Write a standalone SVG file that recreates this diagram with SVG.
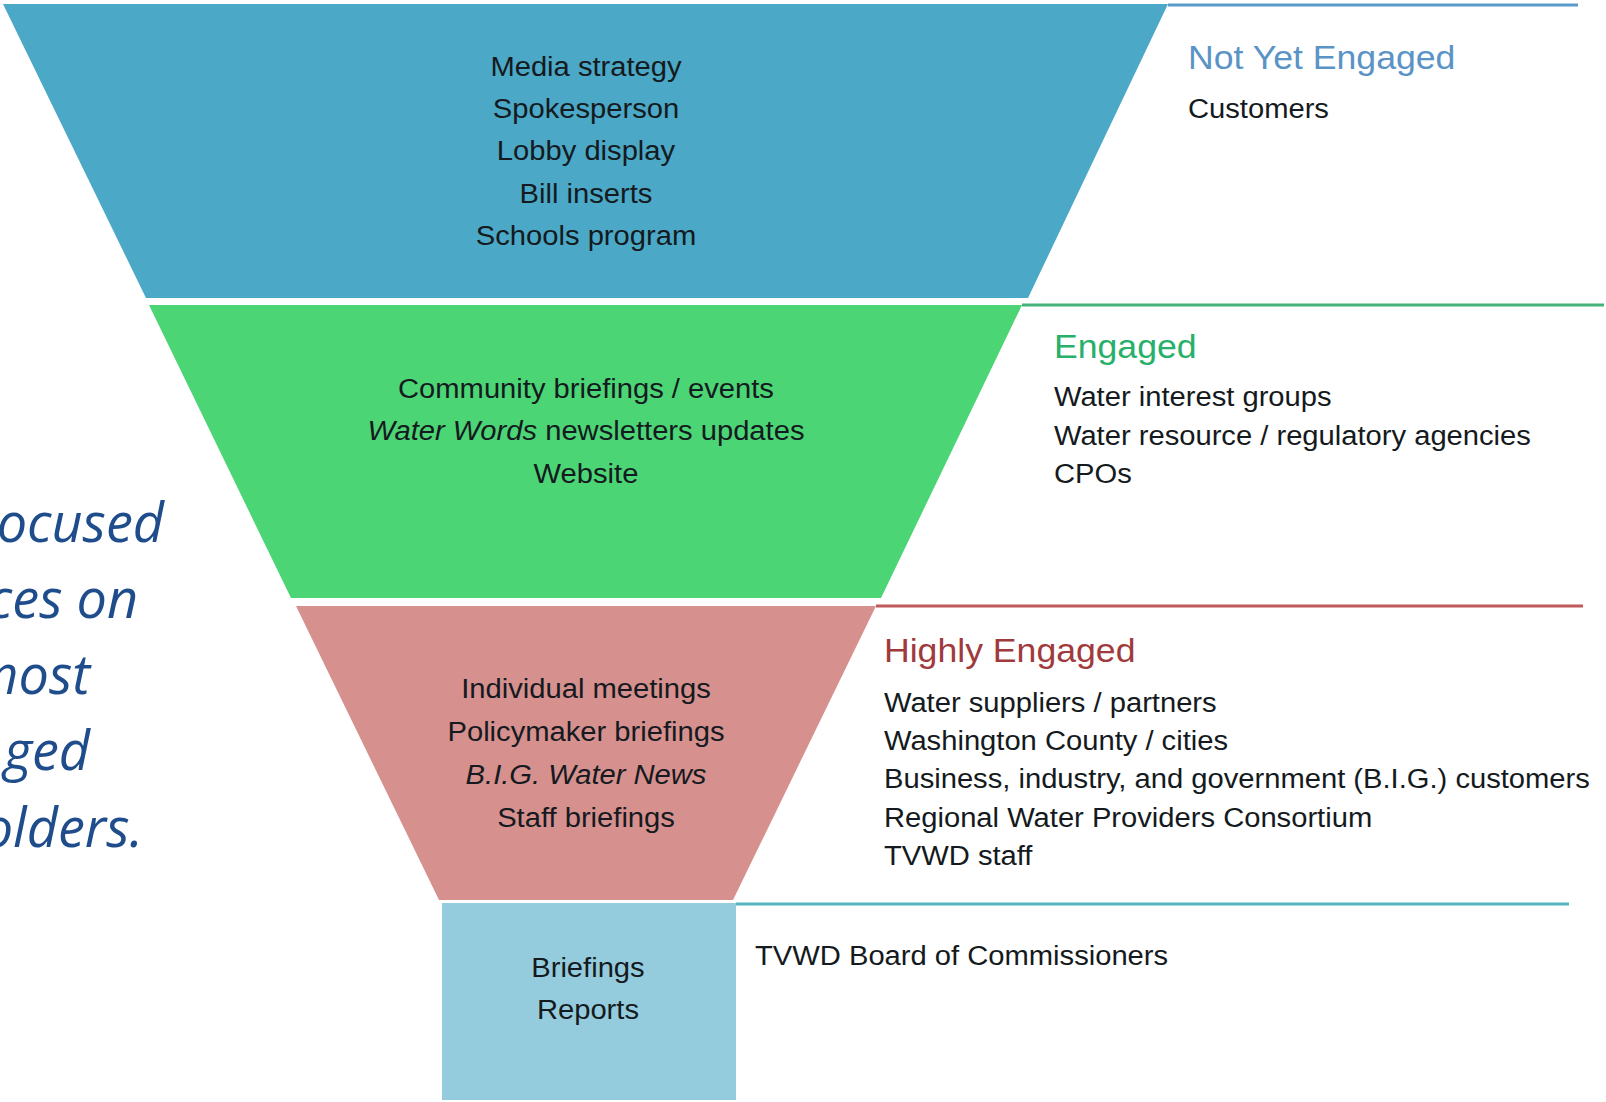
<svg xmlns="http://www.w3.org/2000/svg" width="1606" height="1102" viewBox="0 0 1606 1102">
<style>
.t{font-family:"Liberation Sans",Arial,sans-serif;font-size:27px;fill:#141a20}
.c{text-anchor:middle}
.h{font-family:"Liberation Sans",Arial,sans-serif;font-size:33px}
.i{font-style:italic}
.side{font-family:"Open Sans","Noto Sans",sans-serif;font-style:italic;font-size:54px;fill:#1f4d8c;text-anchor:end}
.div{stroke-width:3;fill:none}
</style>
<rect width="1606" height="1102" fill="#ffffff"/>
<g id="band-not-yet-engaged">
<polygon points="3,4 1168,4 1028,298 146,298" fill="#4ba8c6"/>
<g transform="scale(1.08 1)">
<text class="t c" x="542.6" y="76">Media strategy</text>
<text class="t c" x="542.6" y="118">Spokesperson</text>
<text class="t c" x="542.6" y="160">Lobby display</text>
<text class="t c" x="542.6" y="203">Bill inserts</text>
<text class="t c" x="542.6" y="245">Schools program</text>
<text class="h" x="1100" y="69" fill="#5a93c6">Not Yet Engaged</text>
<text class="t" x="1100" y="118">Customers</text>
</g>
</g>
<g id="band-engaged">
<polygon points="149,305 1022,305 881,598 291,598" fill="#4cd575"/>
<g transform="scale(1.08 1)">
<text class="t c" x="542.6" y="398">Community briefings / events</text>
<text class="t c" x="542.6" y="440"><tspan class="i">Water Words</tspan> newsletters updates</text>
<text class="t c" x="542.6" y="483">Website</text>
<text class="h" x="975.9" y="358" fill="#27b06a">Engaged</text>
<text class="t" x="975.9" y="406">Water interest groups</text>
<text class="t" x="975.9" y="445">Water resource / regulatory agencies</text>
<text class="t" x="975.9" y="483">CPOs</text>
</g>
</g>
<g id="band-highly-engaged">
<polygon points="296,606 876,606 733,900 439,900" fill="#d6908e"/>
<g transform="scale(1.08 1)">
<text class="t c" x="542.6" y="698">Individual meetings</text>
<text class="t c" x="542.6" y="741">Policymaker briefings</text>
<text class="t c i" x="542.6" y="784">B.I.G. Water News</text>
<text class="t c" x="542.6" y="827">Staff briefings</text>
<text class="h" x="818.5" y="662" fill="#a13a3c">Highly Engaged</text>
<text class="t" x="818.5" y="712">Water suppliers / partners</text>
<text class="t" x="818.5" y="750">Washington County / cities</text>
<text class="t" x="818.5" y="788">Business, industry, and government (B.I.G.) customers</text>
<text class="t" x="818.5" y="827">Regional Water Providers Consortium</text>
<text class="t" x="818.5" y="865">TVWD staff</text>
</g>
</g>
<g id="band-board">
<rect x="442" y="903" width="294" height="197" fill="#94ccdd"/>
<g transform="scale(1.08 1)">
<text class="t c" x="544.4" y="977">Briefings</text>
<text class="t c" x="544.4" y="1019">Reports</text>
<text class="t" x="699.1" y="965">TVWD Board of Commissioners</text>
</g>
</g>
<g id="connectors">
<line class="div" x1="1168" y1="5" x2="1578" y2="5" stroke="#5b9bc8"/>
<line class="div" x1="1022" y1="305" x2="1604" y2="305" stroke="#45b27a"/>
<line class="div" x1="876" y1="606" x2="1583" y2="606" stroke="#c05a5a"/>
<line class="div" x1="736" y1="904" x2="1569" y2="904" stroke="#55b3c2"/>
</g>
<g id="side-note">
<text class="side" x="164" y="542">ocused</text>
<text class="side" x="138" y="618">ces on</text>
<text class="side" x="90" y="694">most</text>
<text class="side" x="90" y="770">ged</text>
<text class="side" x="143" y="847">olders.</text>
</g>
</svg>
